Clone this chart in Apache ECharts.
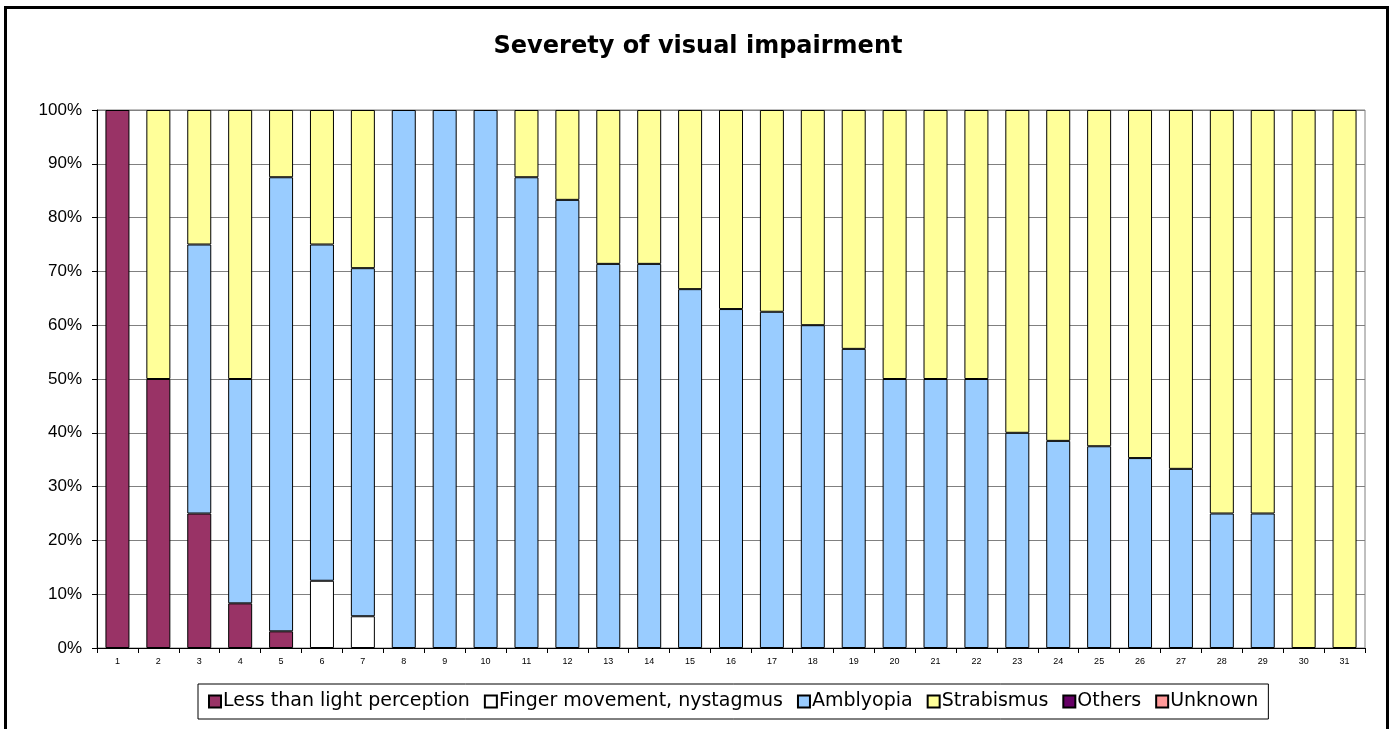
<!DOCTYPE html>
<html lang="en" style="height: 100%">
<head>
  <meta charset="utf-8">
</head>
<body style="height: 100%; margin: 0">
  <div id="container" style="width: 1396px; height: 729px"></div>

  <script type="text/javascript" src="https://cdn.jsdelivr.net/npm/echarts@6/dist/echarts.min.js"></script>

  <script type="text/javascript">
    // data (percent of each group)
    var categories = ['1','2','3','4','5','6','7','8','9','10','11','12','13','14','15','16',
                      '17','18','19','20','21','22','23','24','25','26','27','28','29','30','31'];
    var lessThanLight = [100, 50, 25, 8.3, 3.1, 0, 0, 0, 0, 0, 0, 0, 0, 0, 0, 0,
                         0, 0, 0, 0, 0, 0, 0, 0, 0, 0, 0, 0, 0, 0, 0];
    var fingerMovement = [0, 0, 0, 0, 0, 12.5, 5.9, 0, 0, 0, 0, 0, 0, 0, 0, 0,
                          0, 0, 0, 0, 0, 0, 0, 0, 0, 0, 0, 0, 0, 0, 0];
    var amblyopia = [0, 0, 50, 41.7, 84.4, 62.5, 64.7, 100, 100, 100, 87.5, 83.3, 71.4, 71.4, 66.7, 63,
                     62.5, 60, 55.6, 50, 50, 50, 40, 38.5, 37.5, 35.3, 33.3, 25, 25, 0, 0];
    var strabismus = [0, 50, 25, 50, 12.5, 25, 29.4, 0, 0, 0, 12.5, 16.7, 28.6, 28.6, 33.3, 37,
                      37.5, 40, 44.4, 50, 50, 50, 60, 61.5, 62.5, 64.7, 66.7, 75, 75, 100, 100];
    var others = [0, 0, 0, 0, 0, 0, 0, 0, 0, 0, 0, 0, 0, 0, 0, 0,
                  0, 0, 0, 0, 0, 0, 0, 0, 0, 0, 0, 0, 0, 0, 0];
    var unknown = [0, 0, 0, 0, 0, 0, 0, 0, 0, 0, 0, 0, 0, 0, 0, 0,
                   0, 0, 0, 0, 0, 0, 0, 0, 0, 0, 0, 0, 0, 0, 0];

    var seriesDefs = [
      ['Less than light perception', lessThanLight, '#993366'],
      ['Finger movement, nystagmus', fingerMovement, '#FFFFFF'],
      ['Amblyopia', amblyopia, '#99CCFF'],
      ['Strabismus', strabismus, '#FFFF99'],
      ['Others', others, '#660066'],
      ['Unknown', unknown, '#FF9999']
    ];

    var dom = document.getElementById('container');
    var myChart = echarts.init(dom, null, { renderer: 'canvas' });

    var option = {
      animation: false,
      backgroundColor: '#fff',
      title: {
        text: 'Severety of visual impairment',
        left: 'center',
        top: 30,
        textStyle: { fontFamily: 'DejaVu Sans', fontWeight: 'bold', fontSize: 24, color: '#000' }
      },
      graphic: [{
        type: 'rect',
        shape: { x: 5.5, y: 7.5, width: 1382, height: 740 },
        style: { fill: 'none', stroke: '#000', lineWidth: 3 },
        silent: true
      }],
      legend: {
        bottom: 10,
        left: 198,
        icon: 'rect',
        itemWidth: 12,
        itemHeight: 12,
        itemGap: 14,
        padding: [8, 10, 8, 10],
        borderColor: '#000',
        borderWidth: 1,
        borderRadius: 0,
        backgroundColor: '#fff',
        textStyle: { fontFamily: 'DejaVu Sans', fontSize: 19, color: '#000', padding: [0, 0, 0, -3] },
        data: seriesDefs.map(function (d) { return d[0]; })
      },
      grid: {
        left: 97, right: 31, top: 110, bottom: 81,
        show: true, borderColor: '#808080', borderWidth: 1
      },
      xAxis: {
        type: 'category',
        data: categories,
        axisLine: { lineStyle: { color: '#000', width: 1 } },
        axisTick: { show: true, length: 5, lineStyle: { color: '#000' } },
        axisLabel: { fontFamily: 'Liberation Sans', fontSize: 9, color: '#000', margin: 9 }
      },
      yAxis: {
        type: 'value',
        min: 0, max: 100, interval: 10,
        axisLine: { show: true, lineStyle: { color: '#000', width: 1 } },
        axisTick: { show: true, length: 5, lineStyle: { color: '#000' } },
        axisLabel: { formatter: '{value}%', fontFamily: 'Liberation Sans', fontSize: 17, color: '#000', margin: 15 },
        splitLine: { lineStyle: { color: '#808080', width: 1 } }
      },
      series: seriesDefs.map(function (d) {
        return {
          name: d[0],
          type: 'bar',
          stack: 'total',
          barWidth: 24,
          data: d[1].map(function (v) { return v === 0 ? '-' : v; }),
          itemStyle: { color: d[2], borderColor: '#000', borderWidth: 1 }
        };
      })
    };

    myChart.setOption(option);

    window.addEventListener('resize', function() {
      myChart.resize();
    });
  </script>
</body>
</html>
